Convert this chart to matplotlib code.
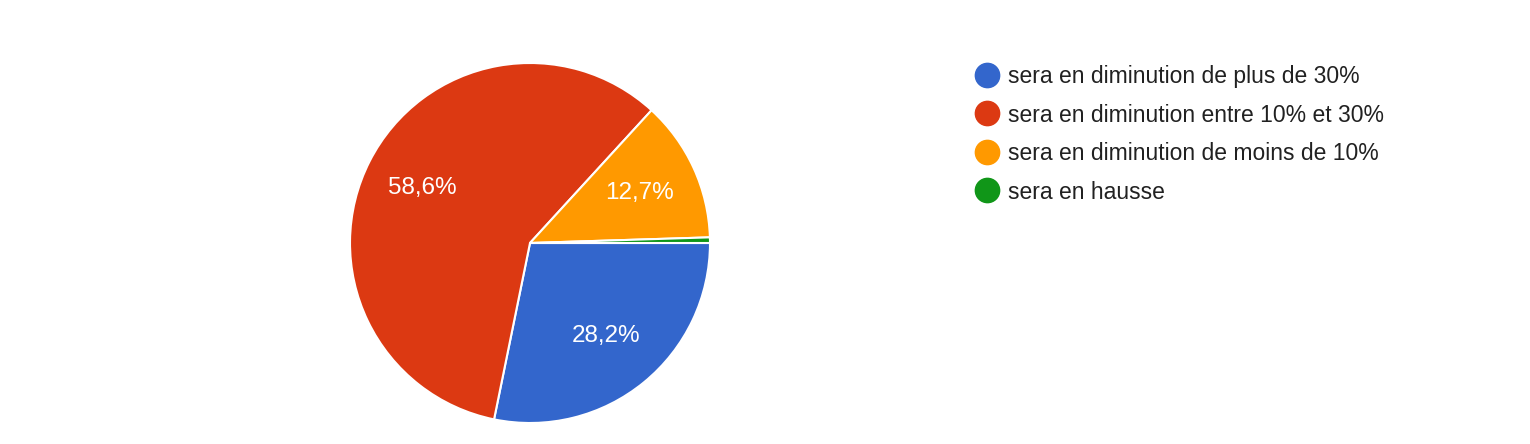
import matplotlib.pyplot as plt
from matplotlib.lines import Line2D

plt.rcParams['font.family'] = ['Liberation Sans', 'DejaVu Sans']

# Data
labels = ["sera en diminution de plus de 30%",
          "sera en diminution entre 10% et 30%",
          "sera en diminution de moins de 10%",
          "sera en hausse"]
values = [28.2, 58.6, 12.7, 0.5]
colors = ["#3366cc", "#dc3912", "#ff9900", "#109618"]

W, H = 1530, 444
fig = plt.figure(figsize=(W / 100, H / 100), dpi=100)

# pie centre (530, 243) px, radius 180 px
cx, cy, r = 530, 243, 180
ax = fig.add_axes([(cx - r) / W, (H - cy - r) / H, 2 * r / W, 2 * r / H])


def fmt(p):
    if p < 5:
        return ""
    return f"{p:.1f}%".replace(".", ",")


wedges, texts, autotexts = ax.pie(values, colors=colors, startangle=0, counterclock=False,
                                  autopct=fmt, pctdistance=0.67, radius=1,
                                  wedgeprops=dict(edgecolor="white", linewidth=1.5))
for t in autotexts:
    t.set_color("white")
    t.set_fontsize(17.5)
ax.set_xlim(-1, 1)
ax.set_ylim(-1, 1)
ax.set_aspect("equal")
ax.axis("off")

# Legend drawn by hand
y0, dy = 75, 38.5
for i, (lab, col) in enumerate(zip(labels, colors)):
    y = (H - (y0 + i * dy)) / H
    fig.add_artist(Line2D([987 / W], [y], marker="o", markersize=17.5, color=col,
                          linestyle="none", transform=fig.transFigure))
    fig.text(1008 / W, y - 1.5 / H, lab, fontsize=16.5, color="#212121", va="center", ha="left")

fig.savefig("out.png", dpi=100)
